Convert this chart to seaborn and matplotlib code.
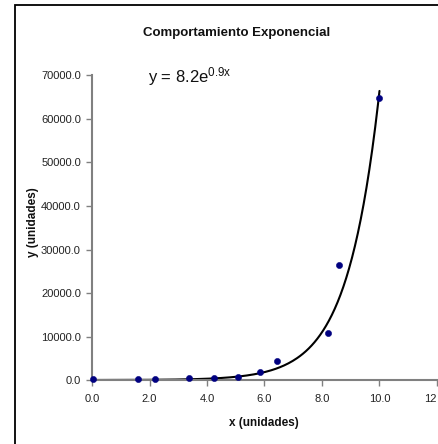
import matplotlib
matplotlib.use("Agg")
import matplotlib.pyplot as plt
import seaborn as sns
import pandas as pd
import numpy as np
from matplotlib.patches import Rectangle

# datos
x_vals = [0.05, 1.61, 2.20, 3.39, 4.24, 5.08, 5.86, 6.43, 8.21, 8.59, 9.98]
y_vals = [150, 150, 150, 350, 350, 760, 1900, 4400, 10800, 26500, 64800]

# parametros de la linea de tendencia (y = a e^(b x))
coef_a = 8.2
coef_b = 0.9

x_ticks = [0, 2, 4, 6, 8, 10, 12]
x_ticklabels = ['0.0', '2.0', '4.0', '6.0', '8.0', '10.0', '12']
y_ticks = [0, 10000, 20000, 30000, 40000, 50000, 60000, 70000]
y_ticklabels = ['0.0', '10000.0', '20000.0', '30000.0', '40000.0', '50000.0', '60000.0', '70000.0']

data = pd.DataFrame({'x': x_vals, 'y': y_vals})
x_fit = np.linspace(0, 10, 200)
trend = pd.DataFrame({'x': x_fit, 'y': coef_a * np.exp(coef_b * x_fit)})

sns.set_theme(style="white")
plt.rcParams['font.family'] = ['Liberation Sans', 'DejaVu Sans']
plt.rcParams['mathtext.default'] = 'regular'

fig = plt.figure(figsize=(4.39, 4.44), dpi=100)
ax = fig.add_axes([0.2096, 0.1441, 0.7858, 0.6859])

sns.lineplot(x='x', y='y', data=trend, ax=ax, color='black', linewidth=1.5)
sns.scatterplot(x='x', y='y', data=data, ax=ax, color='#000080', s=20, edgecolor='#000080', zorder=3)

ax.set_xlim(0, 12)
ax.set_ylim(0, 70000)
ax.set_xticks(x_ticks)
ax.set_xticklabels(x_ticklabels, fontsize=8, color='#222222')
ax.set_yticks(y_ticks)
ax.set_yticklabels(y_ticklabels, fontsize=8, color='#222222')
ax.get_xticklabels()[-1].set_ha('right')
ax.set(xlabel=None)
ax.set(ylabel=None)

for s in ['top', 'right']:
    ax.spines[s].set_visible(False)
for s in ['left', 'bottom']:
    ax.spines[s].set_color('#808080')
    ax.spines[s].set_linewidth(1.5)
ax.tick_params(axis='both', which='both', direction='out', length=4, width=1,
               color='#808080', pad=4)
ax.tick_params(axis='y', left=True)
ax.tick_params(axis='x', bottom=True, pad=6)
for c in ax.collections:
    c.set_clip_on(False)

# textos
fig.text(0.54, 0.925, 'Comportamiento Exponencial', ha='center', va='center',
         fontsize=9.5, fontweight='bold', color='#111111')
fig.text(0.6, 0.047, 'x (unidades)', ha='center', va='center',
         fontsize=8.5, fontweight='bold', color='#111111')
fig.text(0.075, 0.5, 'y (unidades)', ha='center', va='center', rotation='vertical',
         fontsize=8.5, fontweight='bold', color='#111111')
fig.text(0.337, 0.828, r'y = 8.2e$^{0.9x}$', ha='left', va='center',
         fontsize=12, color='#111111')

# marco del area del grafico
fig.patches.append(Rectangle((15 / 439, -0.1), 1.2, 1 - 5 / 444 + 0.1, transform=fig.transFigure,
                             fill=False, edgecolor='black', linewidth=1.3))

fig.savefig('out.png', dpi=100)
plt.close()
